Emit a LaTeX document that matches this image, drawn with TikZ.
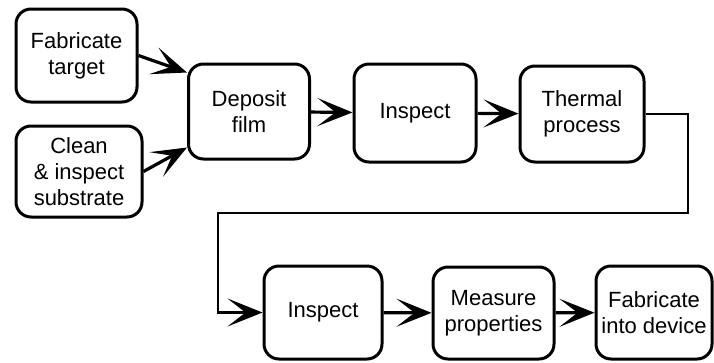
\documentclass[tikz,border=0pt]{standalone}
\usepackage{fontspec}
\setmainfont{Liberation Sans}
\usetikzlibrary{arrows.meta}

\tikzset{
    procbox/.style={draw, line width=3pt, rounded corners=15pt, align=center,
        inner sep=2pt, font=\fontsize{22}{26}\selectfont},
    flow/.style={line width=3.2pt, -{Stealth[length=35pt,width=28pt,inset=18pt]}},
}

\begin{document}
\begin{tikzpicture}[x=1pt,y=-1pt]
        \useasboundingbox (0,0) rectangle (714,362);
        % first row
        \node[procbox, minimum width=121pt, minimum height=93pt] (fab) at (76.5,55.5) {Fabricate\\target};
        \node[procbox, minimum width=126pt, minimum height=91pt] (clean) at (79,171.5) {Clean\\\& inspect\\substrate};
        \node[procbox, minimum width=121pt, minimum height=95pt] (dep) at (249,111.5) {Deposit\\film};
        \node[procbox, minimum width=122pt, minimum height=98pt] (insp1) at (415,113) {Inspect};
        \node[procbox, minimum width=124pt, minimum height=96pt] (therm) at (582,114) {Thermal\\process};
        % second row
        \node[procbox, minimum width=118pt, minimum height=93pt] (insp2) at (323,312.5) {Inspect};
        \node[procbox, minimum width=121pt, minimum height=92pt] (meas) at (493.5,313) {Measure\\properties};
        \node[procbox, minimum width=116pt, minimum height=93pt] (dev) at (654,312.5) {Fabricate\\into device};
        % return line between the rows
        \coordinate (bendR) at (688,213);
        \coordinate (bendL) at (218,213);
        \draw[flow] (fab.east) -- ([yshift=39pt]dep.west);
        \draw[flow] (clean.east) -- ([yshift=-36pt]dep.west);
        \draw[flow] (dep) -- (insp1);
        \draw[flow] (insp1) -- (therm);
        \draw[flow, line width=2.4pt] (therm.east) -| (bendR) -- (bendL) |- (insp2.west);
        \draw[flow] (insp2) -- (meas);
        \draw[flow] (meas) -- (dev);
    \end{tikzpicture}
\end{document}
